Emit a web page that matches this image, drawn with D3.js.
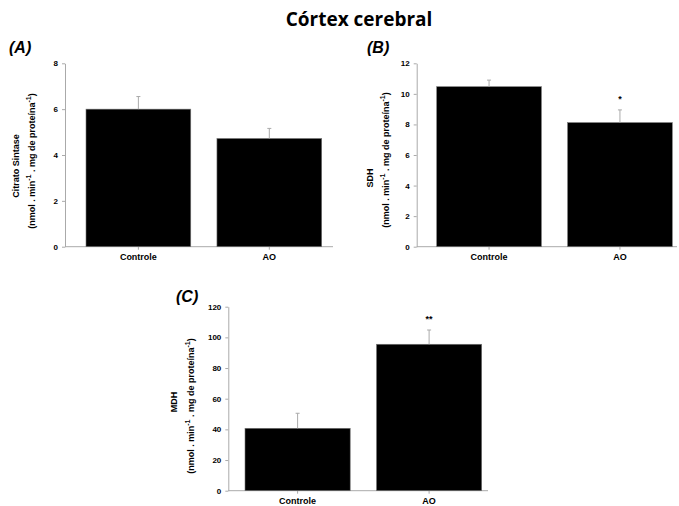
<!DOCTYPE html>
<html><head><meta charset="utf-8">
<script src="https://cdn.jsdelivr.net/npm/d3@7"></script>
<style>body{margin:0;background:#fff}svg{display:block}</style>
</head><body>
<svg id="c" width="679" height="506"></svg>
<script>
const categories = ["Controle", "AO"];
const csValues = [6.0, 4.72];
const csErrors = [0.55, 0.44];
const sdhValues = [10.47, 8.12];
const sdhErrors = [0.43, 0.83];
const mdhValues = [40.7, 95.5];
const mdhErrors = [9.8, 9.3];
const csTicks = [0, 2, 4, 6, 8];
const sdhTicks = [0, 2, 4, 6, 8, 10, 12];
const mdhTicks = [0, 20, 40, 60, 80, 100, 120];
const sdhSig = ["", "*"];
const mdhSig = ["", "**"];
const unitText = ["(nmol . min", "-1", " . mg de proteína", "-1", ")"];

const svg = d3.select("#c");
svg.append("text").attr("x", 359).attr("y", 26).attr("text-anchor", "middle")
  .attr("font-family", "Open Sans, sans-serif").attr("font-weight", "bold")
  .attr("font-size", 19).attr("fill", "#000").text("Córtex cerebral");

function panel(o) {
  const g = svg.append("g");
  const y = d3.scaleLinear().domain([0, o.max]).range([o.yBot, o.yTop]);
  const x = d3.scaleBand().domain(categories).range([o.b0, o.b1]).paddingInner(0.2).paddingOuter(0);
  // y axis
  const ya = g.append("g").attr("transform", `translate(${o.ax},0)`)
    .call(d3.axisLeft(y).tickValues(o.ticks).tickSize(3).tickSizeOuter(0).tickPadding(4));
  ya.selectAll("text").attr("font-family", "Liberation Sans, Arial, sans-serif")
    .attr("font-weight", "bold").attr("font-size", 8).attr("fill", "#000");
  ya.selectAll("line,path").attr("stroke", "#aaa");
  // x axis
  const xa = g.append("g").attr("transform", `translate(0,${o.yBot})`)
    .call(d3.axisBottom(x).tickSize(3).tickSizeOuter(0).tickPadding(4));
  xa.select("path").remove();
  xa.selectAll("line").attr("stroke", "#aaa");
  xa.selectAll("text").attr("font-family", "Liberation Sans, Arial, sans-serif")
    .attr("font-weight", "bold").attr("font-size", 9).attr("fill", "#000");
  g.append("line").attr("x1", o.ax).attr("x2", o.xEnd).attr("y1", o.yBot).attr("y2", o.yBot)
    .attr("stroke", "#aaa");
  // bars
  g.selectAll(".bar").data(categories).enter().append("rect")
    .attr("x", d => x(d)).attr("width", x.bandwidth())
    .attr("y", (d, i) => y(o.values[i])).attr("height", (d, i) => o.yBot - y(o.values[i]))
    .attr("fill", "#000").attr("stroke", "#777").attr("stroke-width", 0.6);
  // error bars
  categories.forEach((c, i) => {
    const cx = x(c) + x.bandwidth() / 2;
    const top = y(o.values[i] + o.errors[i]);
    g.append("line").attr("x1", cx).attr("x2", cx).attr("y1", y(o.values[i])).attr("y2", top)
      .attr("stroke", "#aaa").attr("stroke-width", 1);
    g.append("line").attr("x1", cx - 2).attr("x2", cx + 2).attr("y1", top).attr("y2", top)
      .attr("stroke", "#aaa").attr("stroke-width", 1);
    if (o.sig && o.sig[i]) {
      g.append("text").attr("x", cx).attr("y", top - 8).attr("text-anchor", "middle")
        .attr("font-family", "Liberation Sans, Arial, sans-serif").attr("font-weight", "bold")
        .attr("font-size", 9).attr("fill", "#000").text(o.sig[i]);
    }
  });
  // y titles
  g.append("text").attr("transform", `translate(${o.t1x},${o.t1y}) rotate(-90)`)
    .attr("text-anchor", "middle").attr("dy", "0.35em")
    .attr("font-family", "Liberation Sans, Arial, sans-serif").attr("font-weight", "bold")
    .attr("font-size", 9).attr("fill", "#000").text(o.title);
  const t2 = g.append("text").attr("transform", `translate(${o.t2x},${o.t2y}) rotate(-90)`)
    .attr("text-anchor", "middle").attr("dy", "0.35em")
    .attr("font-family", "Liberation Sans, Arial, sans-serif").attr("font-weight", "bold")
    .attr("font-size", 9).attr("fill", "#000");
  unitText.forEach((s, k) => {
    const sup = s === "-1";
    t2.append("tspan").attr("font-size", sup ? 7 : 9)
      .attr("dy", sup ? -4 : (k > 0 ? 4 : null)).text(s);
  });
  // panel label
  svg.append("text").attr("x", o.lx).attr("y", o.ly)
    .attr("font-family", "Liberation Sans, Arial, sans-serif").attr("font-weight", "bold")
    .attr("font-style", "italic").attr("font-size", 16).attr("fill", "#000").text(o.label);
}

panel({values: csValues, errors: csErrors, ticks: csTicks, max: 8,
  ax: 65, yTop: 63.3, yBot: 246.7, xEnd: 333, b0: 86, b1: 321.7,
  title: "Citrato Sintase", t1x: 16, t1y: 166, t2x: 32, t2y: 161, label: "(A)", lx: 9, ly: 53});
panel({values: sdhValues, errors: sdhErrors, ticks: sdhTicks, max: 12, sig: sdhSig,
  ax: 416.7, yTop: 63.3, yBot: 246.7, xEnd: 677, b0: 436.7, b1: 672.3,
  title: "SDH", t1x: 370, t1y: 178, t2x: 386, t2y: 160, label: "(B)", lx: 367, ly: 53});
panel({values: mdhValues, errors: mdhErrors, ticks: mdhTicks, max: 120, sig: mdhSig,
  ax: 228.3, yTop: 306.7, yBot: 490.7, xEnd: 488, b0: 245, b1: 481.7,
  title: "MDH", t1x: 174, t1y: 402, t2x: 191, t2y: 406, label: "(C)", lx: 176, ly: 302});
</script>
</body></html>
